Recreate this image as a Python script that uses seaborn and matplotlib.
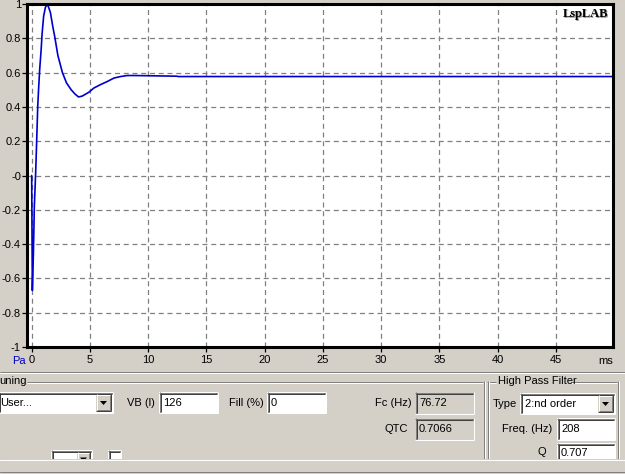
import matplotlib
matplotlib.use("Agg")
import matplotlib.pyplot as plt
import matplotlib.transforms as mtransforms
from matplotlib.patches import Rectangle, Polygon
import seaborn as sns

# pressure response (time in ms, pressure in Pa)
time_ms = [0.0, 0.06, 0.15, 0.23, 0.34, 0.43, 0.52, 0.60, 0.69, 0.81, 0.90, 1.03,
           1.18, 1.33, 1.46, 1.61, 1.81, 1.98, 2.25, 2.64, 2.99, 3.39, 3.72,
           4.02, 4.34, 4.90, 5.34, 5.91, 6.49, 7.06, 7.63, 8.21, 8.78, 12.45, 12.6, 50.0]
pressure = [0.0, -0.67, -0.45, -0.18, 0.01, 0.20, 0.40, 0.51, 0.62, 0.73, 0.83, 0.93,
            0.98, 1.0, 0.98, 0.95, 0.87, 0.81, 0.70, 0.60, 0.54, 0.50, 0.475,
            0.458, 0.463, 0.485, 0.51, 0.53, 0.548, 0.568, 0.577, 0.583, 0.583, 0.579, 0.577, 0.577]

x_ticks = [0, 5, 10, 15, 20, 25, 30, 35, 40, 45]
y_ticks = [-1, -0.8, -0.6, -0.4, -0.2, 0, 0.2, 0.4, 0.6, 0.8, 1]
y_tick_labels = ["-1", "-0.8", "-0.6", "-0.4", "-0.2", "-0", "0.2", "0.4", "0.6", "0.8", "1"]

# values shown in the control panel under the plot
tuning_choice = "User..."
vb_litres = "126"
fill_pct = "0"
fc_hz = "76.72"
qtc = "0.7066"
hp_type = "2:nd order"
hp_freq = "208"
hp_q = "0.707"

W, H = 625, 474
WIN = "#d4d0c8"
DARK = "#808080"
BLUE = "#0000cc"

sns.set_theme(style="white")
plt.rcParams["font.family"] = ["Liberation Sans", "DejaVu Sans"]

fig = plt.figure(figsize=(W / 100, H / 100), dpi=100)
fig.patch.set_facecolor(WIN)

# background axes in pixel coordinates for the window chrome
bg = fig.add_axes([0, 0, 1, 1])
bg.set_xlim(0, W)
bg.set_ylim(H, 0)
bg.axis("off")
bg.set_zorder(0)


def hline(x0, x1, y, color, lw=0.72):
    bg.plot([x0, x1], [y, y], color=color, lw=lw, solid_capstyle="butt")


def vline(x, y0, y1, color, lw=0.72):
    bg.plot([x, x], [y0, y1], color=color, lw=lw, solid_capstyle="butt")


def sunken(x0, y0, x1, y1, fill="white"):
    bg.add_patch(Rectangle((x0, y0), x1 - x0, y1 - y0, facecolor=fill, edgecolor="none"))
    hline(x0, x1, y0 + 0.5, DARK)
    vline(x0 + 0.5, y0, y1, DARK)
    hline(x0 + 1, x1 - 1, y0 + 1.5, "#404040")
    vline(x0 + 1.5, y0 + 1, y1 - 1, "#404040")
    hline(x0, x1, y1 - 0.5, "white")
    vline(x1 - 0.5, y0, y1, "white")


def drop_button(x0, y0, x1, y1):
    bg.add_patch(Rectangle((x0, y0), x1 - x0, y1 - y0, facecolor=WIN, edgecolor="none"))
    hline(x0, x1, y0 + 0.5, "white")
    vline(x0 + 0.5, y0, y1, "white")
    hline(x0, x1, y1 - 0.5, "#404040")
    vline(x1 - 0.5, y0, y1, "#404040")
    hline(x0 + 1, x1 - 1, y1 - 1.5, DARK)
    vline(x1 - 1.5, y0 + 1, y1 - 1, DARK)
    cx, cy = (x0 + x1) / 2, (y0 + y1) / 2
    bg.add_patch(Polygon([[cx - 3.5, cy - 1.5], [cx + 3.5, cy - 1.5], [cx, cy + 2.5]],
                         facecolor="black", edgecolor="none"))


def label(x, y, s, ha="right", color="black"):
    bg.text(x, y, s, ha=ha, va="center", fontsize=8, color=color)


# separator between plot and controls
hline(0, W, 371.5, DARK)
hline(0, W, 372.5, "white")

# "Tuning" group (cut off on the left)
label(-1, 381, "uning", ha="left")
hline(27, 483, 381.5, DARK)
hline(27, 483, 382.5, "white")
vline(483.5, 381, 459, DARK)
vline(484.5, 381, 459, "white")

sunken(-2, 392, 113, 413)
label(0, 403, tuning_choice, ha="left")
drop_button(96, 394, 111, 411)

label(155, 402.5, "VB (l)")
sunken(159, 392, 218, 413)
label(163, 402.5, vb_litres, ha="left")

label(264, 402.5, "Fill (%)")
sunken(267, 392, 326, 413)
label(271, 402.5, fill_pct, ha="left")

label(412, 403, "Fc (Hz)")
sunken(415, 392, 474, 414, fill=WIN)
label(419, 403, fc_hz, ha="left")

label(408, 429, "QTC")
sunken(415, 418, 474, 440, fill=WIN)
label(419, 429, qtc, ha="left")

# partly hidden row at the bottom left
sunken(51, 450, 92, 466)
drop_button(77, 452, 90, 466)
sunken(108, 450, 121, 466)

# "High Pass Filter" group
hline(487, 496, 381.5, DARK)
hline(571, 617, 381.5, DARK)
hline(487, 496, 382.5, "white")
hline(571, 617, 382.5, "white")
vline(487.5, 381, 459, DARK)
vline(488.5, 381, 459, "white")
vline(617.5, 381, 459, DARK)
vline(618.5, 381, 459, "white")
label(498, 380.5, "High Pass Filter", ha="left")

label(517, 404, "Type")
sunken(520, 393, 615, 414)
label(525, 404, hp_type, ha="left")
drop_button(598, 395, 613, 412)

label(552, 429, "Freq. (Hz)")
sunken(557, 418, 615, 440)
label(561, 429, hp_freq, ha="left")

label(546, 452, "Q")
sunken(557, 443, 615, 466)
label(561, 453, hp_q, ha="left")

# status strip covering the bottom of the dialog
bg.add_patch(Rectangle((0, 459), W, H - 459, facecolor=WIN, edgecolor="none", zorder=5))
bg.plot([0, W], [459.5, 459.5], color="white", lw=0.72, zorder=6)
bg.plot([0, W], [471.5, 471.5], color=DARK, lw=0.72, zorder=6)

# axis captions outside the plot frame
label(12, 361, "Pa", ha="left", color=BLUE)
label(598, 361, "ms", ha="left")

# plot area
ax = fig.add_axes([27 / W, 1 - 347 / H, (613 - 27) / W, (347 - 4) / H])
ax.set_zorder(2)
ax.set_facecolor("white")

sns.lineplot(x=time_ms, y=pressure, ax=ax, color=BLUE, lw=1.2, estimator=None)

ax.set_xlim(-0.4, 49.9)
ax.set_ylim(-1, 1)
ax.set_xticks(x_ticks)
ax.set_xticklabels([str(t) for t in x_ticks])
ax.set_yticks(y_ticks)
ax.set_yticklabels(y_tick_labels)
ax.grid(True, color=DARK, linestyle=(0, (4, 3)), linewidth=0.9)
ax.set_axisbelow(True)
for side in ["left", "right", "top", "bottom"]:
    ax.spines[side].set_visible(True)
    ax.spines[side].set_color("black")
    ax.spines[side].set_linewidth(2.2)
ax.tick_params(axis="both", direction="out", length=3.6, width=0.9, colors="black",
               labelsize=8, bottom=True, left=True)
ax.tick_params(axis="x", pad=2.5)
ax.tick_params(axis="y", pad=0.8)
ax.set_xlabel("")
ax.set_ylabel("")

# program watermark with a drop shadow
shadow = mtransforms.offset_copy(ax.transAxes, fig=fig, x=1.5, y=-1.5, units="dots")
ax.text(0.9915, 0.971, "LspLAB", transform=shadow, ha="right", va="center",
        fontsize=9, fontweight="bold", family="Liberation Serif", color="#a0a0a0")
ax.text(0.9915, 0.971, "LspLAB", transform=ax.transAxes, ha="right", va="center",
        fontsize=9, fontweight="bold", family="Liberation Serif", color="black")

fig.savefig("out.png", dpi=100, facecolor=fig.get_facecolor())
